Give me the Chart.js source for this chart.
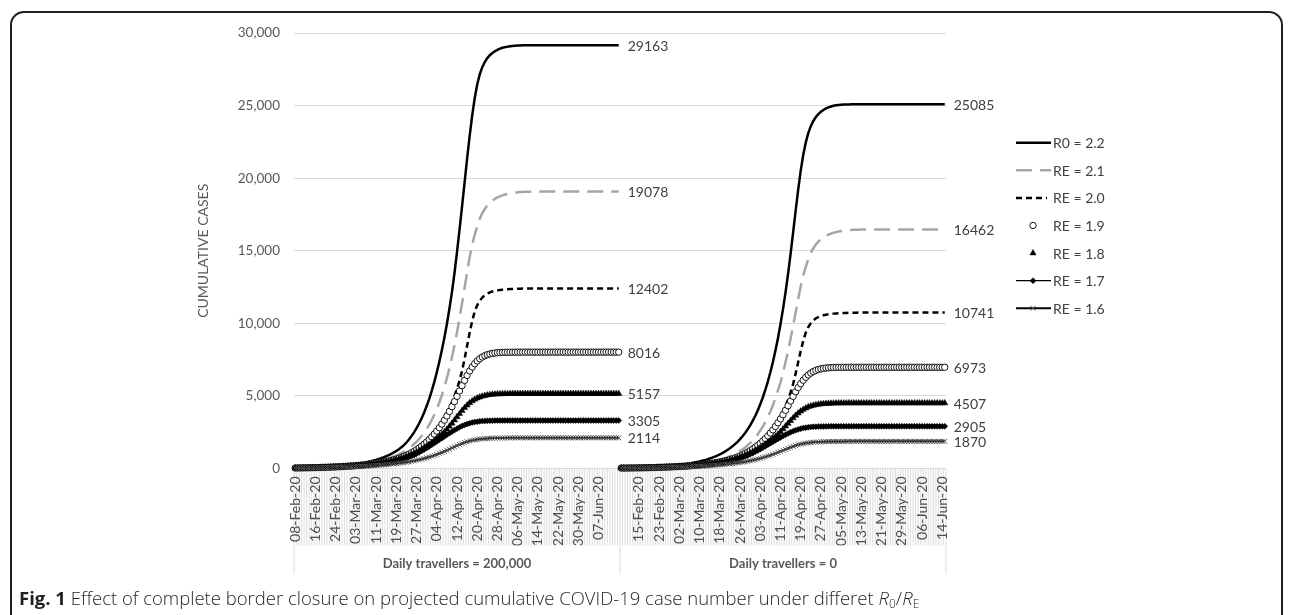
<!DOCTYPE html>
<html>
<head>
<meta charset="utf-8">
<title>Border closure and cumulative COVID-19 cases</title>
<script src="https://cdn.jsdelivr.net/npm/chart.js@4.4.1/dist/chart.umd.min.js"></script>
<style>
  html, body { margin: 0; padding: 0; background: #fff; }
  #wrap { position: relative; width: 1292px; height: 615px; overflow: hidden; }
  #frame { position: absolute; left: 10px; top: 11px; width: 1273px; height: 650px;
           border: 2px solid #231f20; border-radius: 14px; box-sizing: border-box; }
  #c { position: absolute; left: 0; top: 0; }
  #caption { position: absolute; left: 19px; top: 585px; font-family: "Open Sans", sans-serif;
             font-size: 18.5px; font-weight: 300; color: #231f20; white-space: nowrap; }
  #caption b { font-weight: 700; }
  #caption sub { font-size: 12px; vertical-align: -3px; }
</style>
</head>
<body>
<div id="wrap">
  <div id="frame"></div>
  <canvas id="c" width="1292" height="615"></canvas>
  <div id="caption"><b>Fig. 1</b> Effect of complete border closure on projected cumulative COVID-19 case number under differet <i>R</i><sub>0</sub>/<i>R</i><sub>E</sub></div>
</div>
<script>
// tick labels shown on the date axis (every 8th day)
const leftTicks = ["08-Feb-20", "16-Feb-20", "24-Feb-20", "03-Mar-20", "11-Mar-20", "19-Mar-20",
  "27-Mar-20", "04-Apr-20", "12-Apr-20", "20-Apr-20", "28-Apr-20", "06-May-20", "14-May-20",
  "22-May-20", "30-May-20", "07-Jun-20"];
const rightTicks = ["15-Feb-20", "23-Feb-20", "02-Mar-20", "10-Mar-20", "18-Mar-20", "26-Mar-20",
  "03-Apr-20", "11-Apr-20", "19-Apr-20", "27-Apr-20", "05-May-20", "13-May-20", "21-May-20",
  "29-May-20", "06-Jun-20", "14-Jun-20"];
const groups = ["Daily travellers = 200,000", "Daily travellers = 0"];
const seriesNames = ["R0 = 2.2", "RE = 2.1", "RE = 2.0", "RE = 1.9", "RE = 1.8", "RE = 1.7", "RE = 1.6"];

// cumulative cases, one value per day, 08-Feb-20 .. 15-Jun-20
const r22Left = [
  40, 44, 47, 51, 56, 61, 66, 72, 78, 85,
  92, 100, 109, 119, 129, 140, 153, 166, 181, 197,
  214, 233, 253, 276, 300, 327, 356, 388, 422, 460,
  502, 547, 597, 650, 710, 775, 845, 925, 1010, 1105,
  1210, 1330, 1460, 1605, 1790, 2000, 2230, 2490, 2780, 3100,
  3460, 3860, 4300, 4800, 5350, 5950, 6620, 7350, 8150, 9000,
  9950, 11000, 12150, 13450, 14900, 16450, 18050, 19700, 21350, 22900,
  24300, 25500, 26450, 27150, 27650, 28000, 28270, 28470, 28620, 28740,
  28840, 28920, 28980, 29025, 29060, 29085, 29105, 29120, 29132, 29141,
  29148, 29153, 29157, 29159, 29161, 29162, 29163, 29163, 29163, 29163,
  29163, 29163, 29163, 29163, 29163, 29163, 29163, 29163, 29163, 29163,
  29163, 29163, 29163, 29163, 29163, 29163, 29163, 29163, 29163, 29163,
  29163, 29163, 29163, 29163, 29163, 29163, 29163, 29163, 29163];
const r22Right = [
  35, 38, 41, 45, 49, 53, 58, 63, 68, 74,
  81, 88, 96, 104, 113, 123, 134, 146, 159, 173,
  189, 206, 224, 244, 266, 290, 316, 344, 375, 409,
  446, 486, 530, 578, 630, 687, 749, 817, 891, 972,
  1060, 1160, 1270, 1390, 1525, 1675, 1840, 2020, 2220, 2445,
  2695, 2970, 3280, 3620, 4000, 4420, 4890, 5410, 5990, 6630,
  7340, 8120, 8980, 9930, 10980, 12130, 13400, 14780, 16250, 17750,
  19200, 20500, 21600, 22450, 23100, 23580, 23940, 24210, 24410, 24570,
  24700, 24800, 24880, 24940, 24985, 25020, 25045, 25062, 25073, 25080,
  25083, 25084, 25085, 25085, 25085, 25085, 25085, 25085, 25085, 25085,
  25085, 25085, 25085, 25085, 25085, 25085, 25085, 25085, 25085, 25085,
  25085, 25085, 25085, 25085, 25085, 25085, 25085, 25085, 25085, 25085,
  25085, 25085, 25085, 25085, 25085, 25085, 25085, 25085, 25085];
const r21Left = [
  38, 41, 44, 48, 52, 56, 61, 66, 71, 77,
  83, 90, 97, 105, 114, 123, 133, 144, 156, 169,
  183, 198, 214, 232, 251, 272, 294, 318, 344, 372,
  403, 436, 472, 511, 553, 598, 647, 700, 757, 826,
  900, 980, 1070, 1170, 1280, 1400, 1535, 1685, 1850, 2035,
  2240, 2470, 2730, 3020, 3340, 3700, 4100, 4550, 5050, 5600,
  6220, 6900, 7650, 8480, 9380, 10350, 11380, 12450, 13520, 14550,
  15400, 16100, 16700, 17200, 17580, 17880, 18110, 18300, 18450, 18570,
  18670, 18750, 18815, 18870, 18915, 18950, 18980, 19005, 19025, 19040,
  19052, 19061, 19067, 19071, 19074, 19076, 19077, 19078, 19078, 19078,
  19078, 19078, 19078, 19078, 19078, 19078, 19078, 19078, 19078, 19078,
  19078, 19078, 19078, 19078, 19078, 19078, 19078, 19078, 19078, 19078,
  19078, 19078, 19078, 19078, 19078, 19078, 19078, 19078, 19078];
const r21Right = [
  30, 32, 33, 35, 38, 41, 45, 48, 53, 57,
  61, 66, 72, 78, 84, 91, 98, 106, 115, 124,
  135, 146, 158, 171, 185, 200, 217, 235, 254, 274,
  297, 321, 348, 376, 407, 441, 477, 516, 558, 604,
  653, 713, 777, 846, 923, 1010, 1105, 1208, 1325, 1454,
  1597, 1756, 1933, 2132, 2356, 2606, 2882, 3193, 3538, 3927,
  4360, 4833, 5368, 5942, 6603, 7318, 8086, 8932, 9820, 10744,
  11668, 12556, 13290, 13894, 14412, 14844, 15172, 15431, 15630, 15794,
  15923, 16027, 16113, 16182, 16237, 16285, 16324, 16354, 16378, 16401,
  16418, 16431, 16441, 16449, 16454, 16457, 16460, 16461, 16462, 16462,
  16462, 16462, 16462, 16462, 16462, 16462, 16462, 16462, 16462, 16462,
  16462, 16462, 16462, 16462, 16462, 16462, 16462, 16462, 16462, 16462,
  16462, 16462, 16462, 16462, 16462, 16462, 16462, 16462, 16462];
const r20Left = [
  36, 39, 42, 45, 49, 53, 57, 61, 66, 71,
  76, 82, 88, 95, 102, 110, 118, 127, 137, 147,
  158, 170, 183, 197, 212, 228, 245, 264, 284, 305,
  328, 353, 380, 408, 439, 472, 508, 546, 587, 645,
  700, 762, 830, 903, 983, 1070, 1165, 1268, 1380, 1502,
  1635, 1780, 1937, 2108, 2295, 2498, 2720, 2960, 3225, 3515,
  3830, 4180, 4565, 4990, 5480, 6050, 6720, 7550, 8450, 9350,
  10150, 10800, 11250, 11560, 11780, 11940, 12050, 12130, 12190, 12235,
  12270, 12298, 12320, 12338, 12352, 12363, 12372, 12379, 12385, 12390,
  12394, 12397, 12399, 12400, 12401, 12402, 12402, 12402, 12402, 12402,
  12402, 12402, 12402, 12402, 12402, 12402, 12402, 12402, 12402, 12402,
  12402, 12402, 12402, 12402, 12402, 12402, 12402, 12402, 12402, 12402,
  12402, 12402, 12402, 12402, 12402, 12402, 12402, 12402, 12402];
const r20Right = [
  29, 30, 31, 34, 36, 39, 42, 46, 49, 53,
  57, 61, 66, 71, 76, 82, 88, 95, 102, 110,
  119, 127, 137, 147, 158, 171, 184, 197, 212, 229,
  246, 264, 284, 306, 329, 353, 380, 409, 440, 473,
  508, 559, 606, 660, 719, 782, 851, 927, 1009, 1098,
  1195, 1301, 1416, 1541, 1677, 1826, 1987, 2163, 2356, 2563,
  2793, 3044, 3317, 3620, 3953, 4321, 4746, 5239, 5820, 6538,
  7318, 8097, 8790, 9353, 9743, 10011, 10201, 10340, 10435, 10505,
  10557, 10596, 10626, 10650, 10669, 10685, 10697, 10706, 10714, 10720,
  10725, 10730, 10733, 10736, 10738, 10739, 10740, 10741, 10741, 10741,
  10741, 10741, 10741, 10741, 10741, 10741, 10741, 10741, 10741, 10741,
  10741, 10741, 10741, 10741, 10741, 10741, 10741, 10741, 10741, 10741,
  10741, 10741, 10741, 10741, 10741, 10741, 10741, 10741, 10741];
const r19Left = [
  34, 37, 39, 42, 45, 49, 52, 56, 61, 65,
  70, 76, 82, 88, 95, 102, 110, 118, 127, 137,
  147, 159, 171, 184, 198, 213, 229, 247, 266, 286,
  308, 332, 357, 385, 414, 446, 480, 517, 556, 597,
  640, 700, 765, 835, 912, 995, 1085, 1185, 1293, 1410,
  1540, 1680, 1830, 1995, 2175, 2370, 2580, 2810, 3060, 3330,
  3620, 3930, 4260, 4610, 4970, 5340, 5710, 6070, 6410, 6720,
  6990, 7220, 7410, 7560, 7680, 7770, 7840, 7890, 7928, 7955,
  7975, 7988, 7997, 8004, 8008, 8011, 8013, 8014, 8015, 8016,
  8016, 8016, 8016, 8016, 8016, 8016, 8016, 8016, 8016, 8016,
  8016, 8016, 8016, 8016, 8016, 8016, 8016, 8016, 8016, 8016,
  8016, 8016, 8016, 8016, 8016, 8016, 8016, 8016, 8016, 8016,
  8016, 8016, 8016, 8016, 8016, 8016, 8016, 8016, 8016];
const r19Right = [
  28, 29, 30, 32, 34, 37, 39, 43, 45, 49,
  53, 57, 61, 66, 71, 77, 83, 89, 96, 103,
  110, 119, 128, 138, 149, 160, 172, 185, 199, 215,
  231, 249, 268, 289, 311, 335, 360, 388, 418, 450,
  484, 519, 557, 609, 666, 726, 793, 866, 944, 1031,
  1125, 1227, 1340, 1462, 1592, 1736, 1892, 2062, 2245, 2445,
  2662, 2897, 3149, 3419, 3706, 4011, 4324, 4646, 4968, 5281,
  5577, 5846, 6081, 6281, 6447, 6577, 6682, 6760, 6821, 6864,
  6897, 6921, 6938, 6950, 6957, 6963, 6967, 6969, 6971, 6972,
  6973, 6973, 6973, 6973, 6973, 6973, 6973, 6973, 6973, 6973,
  6973, 6973, 6973, 6973, 6973, 6973, 6973, 6973, 6973, 6973,
  6973, 6973, 6973, 6973, 6973, 6973, 6973, 6973, 6973, 6973,
  6973, 6973, 6973, 6973, 6973, 6973, 6973, 6973, 6973];
const r18Left = [
  33, 35, 38, 41, 44, 47, 51, 55, 59, 63,
  68, 73, 79, 85, 91, 98, 106, 114, 122, 132,
  142, 152, 164, 176, 190, 204, 219, 236, 254, 273,
  293, 315, 339, 365, 392, 420, 450, 482, 516, 552,
  590, 640, 695, 755, 820, 890, 965, 1045, 1130, 1222,
  1320, 1425, 1537, 1656, 1782, 1916, 2057, 2205, 2360, 2520,
  2700, 2900, 3110, 3330, 3550, 3770, 3980, 4180, 4360, 4520,
  4650, 4760, 4850, 4920, 4975, 5020, 5055, 5082, 5102, 5117,
  5128, 5136, 5142, 5147, 5150, 5153, 5155, 5156, 5157, 5157,
  5157, 5157, 5157, 5157, 5157, 5157, 5157, 5157, 5157, 5157,
  5157, 5157, 5157, 5157, 5157, 5157, 5157, 5157, 5157, 5157,
  5157, 5157, 5157, 5157, 5157, 5157, 5157, 5157, 5157, 5157,
  5157, 5157, 5157, 5157, 5157, 5157, 5157, 5157, 5157];
const r18Right = [
  27, 28, 29, 31, 33, 36, 38, 41, 45, 48,
  52, 55, 59, 64, 69, 74, 80, 86, 93, 100,
  107, 115, 124, 133, 143, 154, 166, 178, 191, 206,
  222, 239, 256, 275, 296, 319, 343, 367, 393, 421,
  451, 482, 516, 559, 607, 660, 717, 778, 843, 913,
  988, 1068, 1154, 1245, 1343, 1447, 1557, 1675, 1798, 1927,
  2063, 2202, 2360, 2535, 2718, 2910, 3103, 3295, 3479, 3653,
  3811, 3950, 4064, 4160, 4239, 4300, 4348, 4387, 4418, 4442,
  4459, 4472, 4482, 4489, 4494, 4498, 4501, 4504, 4505, 4506,
  4507, 4507, 4507, 4507, 4507, 4507, 4507, 4507, 4507, 4507,
  4507, 4507, 4507, 4507, 4507, 4507, 4507, 4507, 4507, 4507,
  4507, 4507, 4507, 4507, 4507, 4507, 4507, 4507, 4507, 4507,
  4507, 4507, 4507, 4507, 4507, 4507, 4507, 4507, 4507];
const r17Left = [
  32, 34, 37, 39, 42, 45, 48, 52, 55, 59,
  63, 68, 73, 78, 83, 89, 95, 102, 109, 117,
  125, 134, 144, 154, 165, 176, 189, 202, 217, 232,
  248, 266, 285, 305, 326, 349, 374, 400, 428, 459,
  491, 540, 593, 650, 713, 780, 855, 935, 1020, 1110,
  1205, 1305, 1410, 1518, 1630, 1745, 1860, 1975, 2090, 2205,
  2320, 2430, 2540, 2645, 2745, 2840, 2925, 3000, 3065, 3120,
  3165, 3200, 3228, 3250, 3266, 3278, 3287, 3293, 3297, 3300,
  3302, 3303, 3304, 3305, 3305, 3305, 3305, 3305, 3305, 3305,
  3305, 3305, 3305, 3305, 3305, 3305, 3305, 3305, 3305, 3305,
  3305, 3305, 3305, 3305, 3305, 3305, 3305, 3305, 3305, 3305,
  3305, 3305, 3305, 3305, 3305, 3305, 3305, 3305, 3305, 3305,
  3305, 3305, 3305, 3305, 3305, 3305, 3305, 3305, 3305];
const r17Right = [
  27, 28, 28, 30, 33, 34, 37, 40, 42, 46,
  48, 52, 55, 60, 64, 69, 73, 78, 84, 90,
  96, 103, 110, 118, 127, 135, 145, 155, 166, 178,
  191, 204, 218, 234, 251, 268, 287, 307, 329, 352,
  376, 403, 432, 475, 521, 571, 627, 686, 752, 822,
  897, 976, 1059, 1147, 1239, 1334, 1433, 1534, 1635, 1736,
  1837, 1938, 2039, 2136, 2233, 2325, 2413, 2496, 2571, 2637,
  2694, 2742, 2782, 2813, 2837, 2857, 2871, 2881, 2889, 2894,
  2898, 2901, 2903, 2903, 2904, 2905, 2905, 2905, 2905, 2905,
  2905, 2905, 2905, 2905, 2905, 2905, 2905, 2905, 2905, 2905,
  2905, 2905, 2905, 2905, 2905, 2905, 2905, 2905, 2905, 2905,
  2905, 2905, 2905, 2905, 2905, 2905, 2905, 2905, 2905, 2905,
  2905, 2905, 2905, 2905, 2905, 2905, 2905, 2905, 2905];
const r16Left = [
  31, 33, 35, 37, 39, 42, 44, 47, 50, 53,
  56, 60, 63, 67, 71, 76, 80, 85, 90, 96,
  102, 108, 115, 122, 129, 137, 146, 155, 164, 174,
  185, 196, 208, 221, 235, 249, 265, 281, 298, 317,
  336, 357, 380, 405, 432, 461, 492, 526, 562, 601,
  643, 688, 737, 789, 845, 905, 968, 1035, 1105, 1178,
  1254, 1332, 1412, 1493, 1573, 1650, 1722, 1788, 1846, 1896,
  1938, 1972, 2000, 2023, 2042, 2057, 2069, 2079, 2087, 2093,
  2098, 2102, 2105, 2108, 2110, 2111, 2112, 2113, 2114, 2114,
  2114, 2114, 2114, 2114, 2114, 2114, 2114, 2114, 2114, 2114,
  2114, 2114, 2114, 2114, 2114, 2114, 2114, 2114, 2114, 2114,
  2114, 2114, 2114, 2114, 2114, 2114, 2114, 2114, 2114, 2114,
  2114, 2114, 2114, 2114, 2114, 2114, 2114, 2114, 2114];
const r16Right = [
  26, 27, 27, 29, 31, 33, 35, 37, 39, 42,
  44, 47, 50, 53, 56, 59, 63, 67, 71, 75,
  80, 85, 90, 96, 102, 108, 114, 121, 129, 137,
  145, 154, 164, 174, 184, 196, 208, 220, 235, 249,
  264, 281, 297, 316, 336, 358, 382, 408, 436, 466,
  497, 532, 569, 609, 652, 698, 748, 801, 857, 916,
  978, 1043, 1109, 1179, 1250, 1321, 1392, 1460, 1524, 1582,
  1634, 1678, 1715, 1745, 1770, 1790, 1807, 1820, 1831, 1839,
  1845, 1852, 1856, 1860, 1862, 1864, 1865, 1866, 1867, 1868,
  1869, 1870, 1870, 1870, 1870, 1870, 1870, 1870, 1870, 1870,
  1870, 1870, 1870, 1870, 1870, 1870, 1870, 1870, 1870, 1870,
  1870, 1870, 1870, 1870, 1870, 1870, 1870, 1870, 1870, 1870,
  1870, 1870, 1870, 1870, 1870, 1870, 1870, 1870, 1870];

// daily categories, same calendar in both groups
const months = ["Jan", "Feb", "Mar", "Apr", "May", "Jun", "Jul", "Aug", "Sep", "Oct", "Nov", "Dec"];
const nDays = r22Left.length;
const days = [];
for (let i = 0; i < nDays; i++) {
  const d = new Date(2020, 1, 8 + i);
  days.push(String(d.getDate()).padStart(2, "0") + "-" + months[d.getMonth()] + "-20");
}
const categories = days.concat(days);

const txt = "#595959";
const dark = "#404040";
const font = 'Lato, "Open Sans", sans-serif';
Chart.defaults.font.family = font;

// no line between the last day of group 1 and first day of group 2
const gap = ctx => (ctx.p0DataIndex === nDays - 1 ? "rgba(0,0,0,0)" : undefined);

const datasets = [
  { data: r22Left.concat(r22Right), borderColor: "#000", borderWidth: 2.5, pointRadius: 0 },
  { data: r21Left.concat(r21Right), borderColor: "#a6a6a6", borderWidth: 2.5, borderDash: [16, 8], pointRadius: 0 },
  { data: r20Left.concat(r20Right), borderColor: "#000", borderWidth: 2.5, borderDash: [6, 4], pointRadius: 0 },
  { data: r19Left.concat(r19Right), showLine: false, pointStyle: "circle", pointRadius: 3.2,
    pointBackgroundColor: "#fff", pointBorderColor: "#111", pointBorderWidth: 1 },
  { data: r18Left.concat(r18Right), showLine: false, pointStyle: "triangle", pointRadius: 3.6,
    pointBackgroundColor: "#000", pointBorderColor: "#000", pointBorderWidth: 0.5 },
  { data: r17Left.concat(r17Right), borderColor: "#000", borderWidth: 1.2, pointStyle: "rectRot", pointRadius: 3,
    pointBackgroundColor: "#000", pointBorderColor: "#000", pointBorderWidth: 0.5 },
  { data: r16Left.concat(r16Right), borderColor: "#000", borderWidth: 2, pointStyle: "crossRot", pointRadius: 3.5,
    pointBackgroundColor: "#555", pointBorderColor: "#555", pointBorderWidth: 1 }
];
datasets.forEach((ds, i) => {
  ds.label = seriesNames[i];
  ds.order = datasets.length - i;
  ds.tension = 0;
  ds.fill = false;
  ds.clip = 12;
  ds.segment = { borderColor: gap };
});

// axis hatch, group dividers and group names under the dates
const groupAxis = {
  id: "groupAxis",
  beforeDraw(chart) {
    const x = chart.scales.x, ctx = chart.ctx;
    const w = (x.right - x.left) / categories.length;
    const top = chart.chartArea.bottom;
    ctx.save();
    ctx.strokeStyle = "#d4d4d4";
    ctx.lineWidth = 0.8;
    ctx.beginPath();
    for (let i = 0; i <= categories.length; i++) {
      const px = x.getPixelForValue(Math.min(i, categories.length - 1)) + (i === categories.length ? w / 2 : -w / 2);
      const bottom = (i % nDays === 0) ? top + 105 : top + 77;
      ctx.moveTo(px, top);
      ctx.lineTo(px, bottom);
    }
    ctx.stroke();
    ctx.restore();
  },
  afterDraw(chart) {
    const x = chart.scales.x, ctx = chart.ctx;
    ctx.save();
    ctx.fillStyle = txt;
    ctx.font = "bold 13px " + font;
    ctx.textAlign = "center";
    ctx.textBaseline = "middle";
    groups.forEach((g, k) => {
      const a = x.getPixelForValue(k * nDays);
      const b = x.getPixelForValue(k * nDays + nDays - 1);
      ctx.fillText(g, (a + b) / 2, chart.chartArea.bottom + 95);
    });
    // y axis title
    ctx.font = "14px " + font;
    ctx.translate(203, (chart.chartArea.top + chart.chartArea.bottom) / 2);
    ctx.rotate(-Math.PI / 2);
    ctx.fillText("CUMULATIVE CASES", 0, 0);
    ctx.restore();
  }
};

// final value next to the last point of each group
const endLabels = {
  id: "endLabels",
  afterDatasetsDraw(chart) {
    const ctx = chart.ctx;
    ctx.save();
    ctx.fillStyle = dark;
    ctx.font = "14px " + font;
    ctx.textAlign = "left";
    ctx.textBaseline = "middle";
    chart.data.datasets.forEach((ds, i) => {
      const pts = chart.getDatasetMeta(i).data;
      [nDays - 1, 2 * nDays - 1].forEach(k => {
        ctx.fillText(String(ds.data[k]), pts[k].x + 9, pts[k].y + 1);
      });
    });
    ctx.restore();
  }
};

// legend drawn with each series' own style
const sideLegend = {
  id: "sideLegend",
  afterDraw(chart) {
    const ctx = chart.ctx;
    const x0 = 1016, x1 = 1051, tx = 1053, y0 = 142.7, step = 27.6;
    ctx.save();
    chart.data.datasets.forEach((ds, i) => {
      const y = y0 + i * step;
      if (ds.showLine !== false) {
        ctx.strokeStyle = ds.borderColor;
        ctx.lineWidth = ds.borderWidth;
        ctx.setLineDash(ds.borderDash || []);
        ctx.beginPath();
        ctx.moveTo(x0, y);
        ctx.lineTo(ds.borderDash && ds.borderDash[0] < 10 ? x1 - 4 : x1, y);
        ctx.stroke();
        ctx.setLineDash([]);
      }
      if (ds.pointRadius) {
        ctx.fillStyle = ds.pointBackgroundColor;
        ctx.strokeStyle = ds.pointBorderColor;
        ctx.lineWidth = ds.pointBorderWidth;
        Chart.helpers.drawPoint(ctx, { pointStyle: ds.pointStyle, radius: ds.pointRadius, rotation: 0,
          borderWidth: ds.pointBorderWidth }, 1033, y);
      }
      ctx.fillStyle = dark;
      ctx.font = "14px " + font;
      ctx.textAlign = "left";
      ctx.textBaseline = "middle";
      ctx.fillText(ds.label, tx, y + 1);
    });
    ctx.restore();
  }
};

new Chart(document.getElementById("c"), {
  type: "line",
  data: { labels: categories, datasets: datasets },
  options: {
    responsive: false,
    animation: false,
    events: [],
    layout: { padding: { left: 0, right: 346, top: 33, bottom: 69.5 } },
    plugins: { legend: { display: false }, tooltip: { enabled: false } },
    scales: {
      x: {
        type: "category",
        offset: true,
        grid: { display: false, drawTicks: false },
        border: { display: false },
        ticks: {
          autoSkip: false,
          minRotation: 90,
          maxRotation: 90,
          padding: 8,
          color: "#4d4d4d",
          font: { size: 14 },
          callback: function (value, index) {
            if (index < nDays) return index % 8 === 0 ? leftTicks[index / 8] : null;
            const j = index - nDays;
            return (j - 7) % 8 === 0 && j >= 7 ? rightTicks[(j - 7) / 8] : null;
          }
        },
        afterFit: s => { s.height = 77; }
      },
      y: {
        min: 0,
        max: 30000,
        grid: { color: "#d9d9d9", lineWidth: 1, drawTicks: false },
        border: { display: false },
        ticks: {
          stepSize: 5000,
          padding: 14,
          color: txt,
          font: { size: 13.5 },
          callback: v => v.toLocaleString("en-US")
        },
        afterFit: s => { s.width = 294; }
      }
    }
  },
  plugins: [groupAxis, endLabels, sideLegend]
});
</script>
</body>
</html>
